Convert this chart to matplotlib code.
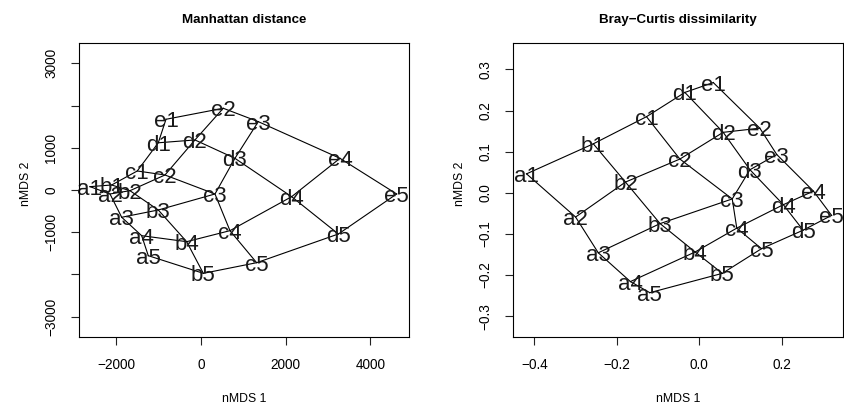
import numpy as np
import matplotlib
matplotlib.use('Agg')
import matplotlib.pyplot as plt

plt.rcParams['font.family'] = ['Liberation Sans', 'DejaVu Sans']

letters = ['a', 'b', 'c', 'd', 'e']
steps = [1, 2, 3, 4, 5]

# nMDS scores, one row per letter, one column per step
man_x = np.array([
    [-2621, -2148, -1872, -1400, -1244],
    [-2109, -1677, -1008, -338, 56],
    [-1504, -850, 331, 685, 1315],
    [-1008, -142, 802, 2141, 3245],
    [-826, 526, 1353, 3283, 4621],
])
man_y = np.array([
    [79, -95, -647, -1083, -1557],
    [118, -17, -474, -1225, -1975],
    [450, 355, -95, -964, -1723],
    [1118, 1185, 750, -159, -1043],
    [1675, 1936, 1619, 750, -95],
])

bc_x = np.array([
    [-0.419, -0.300, -0.245, -0.167, -0.120],
    [-0.257, -0.179, -0.095, -0.010, 0.056],
    [-0.128, -0.047, 0.080, 0.091, 0.151],
    [-0.035, 0.058, 0.123, 0.204, 0.252],
    [0.034, 0.147, 0.188, 0.277, 0.321],
])
bc_y = np.array([
    [0.046, -0.059, -0.146, -0.216, -0.243],
    [0.119, 0.026, -0.075, -0.144, -0.196],
    [0.185, 0.082, -0.015, -0.086, -0.136],
    [0.244, 0.147, 0.056, -0.029, -0.091],
    [0.268, 0.157, 0.093, 0.004, -0.055],
])

man_xticks = [-2000, 0, 2000, 4000]
man_yticks = [-3000, -2000, -1000, 0, 1000, 2000, 3000]
man_ylabels = ['\u22123000', '', '\u22121000', '0', '1000', '', '3000']
bc_xticks = [-0.4, -0.2, 0.0, 0.2]
bc_yticks = [-0.3, -0.2, -0.1, 0.0, 0.1, 0.2, 0.3]


def grid_plot(ax, gx, gy, title):
    # connect neighbours along both directions of the grid
    for i in range(5):
        ax.plot(gx[i, :], gy[i, :], color='black', lw=0.8, zorder=1)
        ax.plot(gx[:, i], gy[:, i], color='black', lw=0.8, zorder=1)
    for i, l in enumerate(letters):
        for j, s in enumerate(steps):
            ax.text(gx[i, j], gy[i, j], f'{l}{s}', fontsize=16,
                    ha='center', va='center_baseline', color='#1a1a1a', zorder=2)
    ax.set_title(title, fontsize=9.6, fontweight='bold', pad=14)
    ax.set_xlabel('nMDS 1', fontsize=8.8)
    ax.set_ylabel('nMDS 2', fontsize=8.8, va='center')
    ax.xaxis.set_label_coords(0.5, -0.19)
    ax.yaxis.set_label_coords(-0.161, 0.52)
    ax.tick_params(length=6, width=0.8, pad=9, labelsize=9.8, color='#222222')
    for sp in ax.spines.values():
        sp.set_linewidth(0.8)


fig = plt.figure(figsize=(8.45, 4.08), dpi=100)
ax1 = fig.add_axes([0.0938, 0.1748, 0.3902, 0.7206])
ax2 = fig.add_axes([0.6075, 0.1748, 0.3898, 0.7206])

ax1.set_xlim(-2874, 4912)
ax1.set_ylim(-3476, 3490)
grid_plot(ax1, man_x, man_y, 'Manhattan distance')
ax1.set_xticks(man_xticks)
ax1.set_xticklabels([f'{t}'.replace('-', '\u2212') for t in man_xticks])
ax1.set_yticks(man_yticks)
ax1.set_yticklabels(man_ylabels)

ax2.set_xlim(-0.451, 0.348)
ax2.set_ylim(-0.350, 0.365)
grid_plot(ax2, bc_x, bc_y, 'Bray\u2212Curtis dissimilarity')
ax2.set_xticks(bc_xticks)
ax2.set_xticklabels([f'{t:.1f}'.replace('-', '\u2212') for t in bc_xticks])
ax2.set_yticks(bc_yticks)
ax2.set_yticklabels([f'{t:.1f}'.replace('-', '\u2212') for t in bc_yticks])

for ax in (ax1, ax2):
    plt.setp(ax.get_yticklabels(), rotation=90, va='center')

fig.savefig('out.png', dpi=100)
